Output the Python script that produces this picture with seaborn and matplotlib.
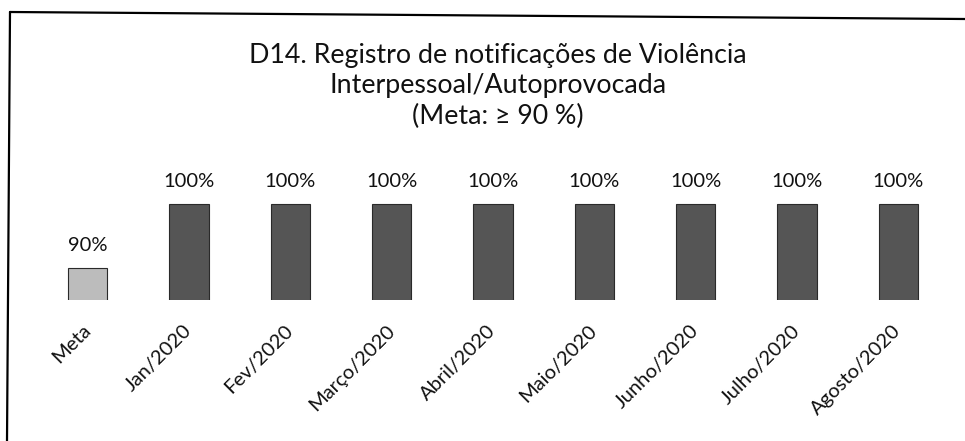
import matplotlib
matplotlib.use("Agg")
import matplotlib.pyplot as plt
import seaborn as sns
from matplotlib.lines import Line2D

categorias = ["Meta", "Jan/2020", "Fev/2020", "Março/2020", "Abril/2020",
              "Maio/2020", "Junho/2020", "Julho/2020", "Agosto/2020"]
valores = [90, 100, 100, 100, 100, 100, 100, 100, 100]
cores = ["#bcbcbc"] + ["#555555"] * 8

titulo = "D14. Registro de notificações de Violência\nInterpessoal/Autoprovocada\n(Meta: ≥ 90 %)"

sns.set_theme(style="white")
plt.rcParams["font.family"] = ["Lato", "DejaVu Sans"]

W, H = 965, 441
fig = plt.figure(figsize=(W / 100, H / 100), dpi=100)
ax = fig.add_axes([37 / W, 1 - 300 / H, (949 - 37) / W, 140 / H])

sns.barplot(x=categorias, y=valores, hue=categorias, palette=cores, legend=False,
            width=0.39, edgecolor="#2a2a2a", linewidth=0.8, ax=ax)

ax.set_ylim(85, 106.8)
ax.set_xlim(-0.5, len(categorias) - 0.5)
for cont in ax.containers:
    ax.bar_label(cont, fmt="%g%%", padding=10, fontsize=14.5, color="#111111")

ax.set_xlabel("")
ax.set_ylabel("")
ax.set_yticks([])
ax.tick_params(axis="x", length=0, pad=20)
ax.set_xticks(range(len(categorias)))
ax.set_xticklabels(categorias, rotation=45, ha="right", va="center",
                   rotation_mode="anchor", fontsize=14.5, color="#111111")
for s in ax.spines.values():
    s.set_visible(False)

fig.text(498 / W, 1 - 86 / H, titulo, ha="center", va="center", fontsize=19.3,
         linespacing=1.25, color="#111111")

# moldura do quadro (digitalizado, levemente inclinado)
fig.add_artist(Line2D([10 / W, 7 / W], [1 - 12 / H, 0], transform=fig.transFigure,
                      color="black", lw=1.6))
fig.add_artist(Line2D([10 / W, 1], [1 - 12 / H, 1 - 19 / H], transform=fig.transFigure,
                      color="black", lw=1.6))

fig.savefig("out.png", dpi=100)
